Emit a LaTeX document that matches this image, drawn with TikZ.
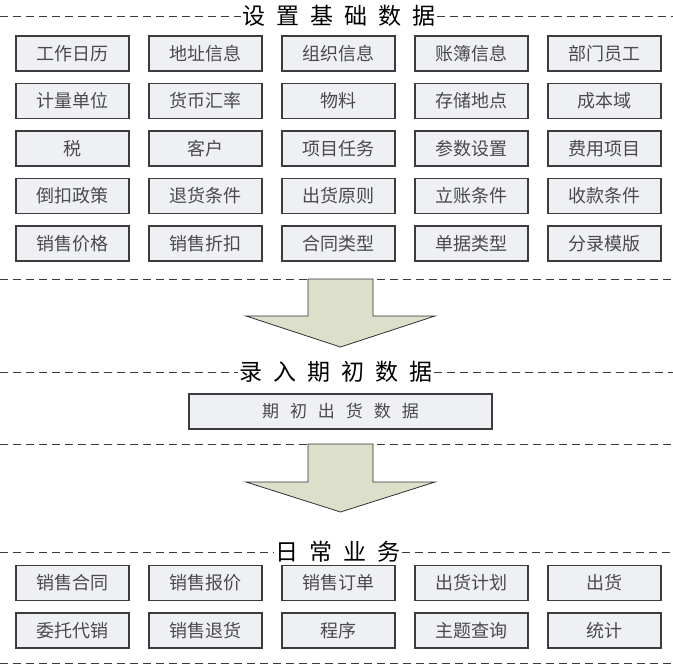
\documentclass[tikz,border=0pt]{standalone}
\usepackage{fontspec}
\setmainfont{Noto Sans CJK SC}
\definecolor{boxfill}{HTML}{EEF0F4}
\definecolor{boxline}{HTML}{3C3C3C}
\definecolor{boxtext}{HTML}{4A4A4A}
\definecolor{arrowfill}{HTML}{DCDFCA}
\definecolor{arrowline}{HTML}{303030}
\definecolor{divline}{HTML}{3A3A3A}
\newcommand{\gapchar}{\hspace{11pt}}
\begin{document}
\begin{tikzpicture}[x=1pt,y=-1pt,
  cell/.style={draw=boxline, fill=boxfill, line width=1.1pt, minimum width=113pt,
    minimum height=35pt, inner sep=0pt, text=boxtext, font=\fontsize{18}{20}\selectfont},
  heading/.style={inner sep=1pt, text=black, font=\fontsize{23}{25}\selectfont},
  divider/.style={draw=divline, line width=0.9pt, dash pattern=on 8pt off 5pt},
  flow/.style={draw=arrowline, fill=arrowfill, line width=0.8pt, line join=miter}]
\useasboundingbox (0,0) rectangle (673,664);

% ---- section 1: base data ----
\node[heading] (t1) at (339,16) {设\gapchar 置\gapchar 基\gapchar 础\gapchar 数\gapchar 据};
\draw[divider] (0,16) -- (t1.west);
\draw[divider] (t1.east) -- (673,16);

\foreach \txt [count=\i from 0] in {工作日历,地址信息,组织信息,账簿信息,部门员工}
  \node[cell] (a\i) at (72.5+133*\i,53.5) {\txt};
\foreach \txt [count=\i from 0] in {计量单位,货币汇率,物料,存储地点,成本域}
  \node[cell] (b\i) at (72.5+133*\i,101) {\txt};
\foreach \txt [count=\i from 0] in {税,客户,项目任务,参数设置,费用项目}
  \node[cell] (c\i) at (72.5+133*\i,148.5) {\txt};
\foreach \txt [count=\i from 0] in {倒扣政策,退货条件,出货原则,立账条件,收款条件}
  \node[cell] (d\i) at (72.5+133*\i,196) {\txt};
\foreach \txt [count=\i from 0] in {销售价格,销售折扣,合同类型,单据类型,分录模版}
  \node[cell] (e\i) at (72.5+133*\i,243.5) {\txt};

\draw[divider] (0,279) -- (673,279);
\draw[flow] (308,279) -- (373,279) -- (373,316) -- (435,316) -- (340.5,347)
  -- (246,316) -- (308,316) -- cycle;

% ---- section 2: opening balances ----
\node[heading] (t2) at (336,372) {录\gapchar 入\gapchar 期\gapchar 初\gapchar 数\gapchar 据};
\draw[divider] (0,372) -- (t2.west);
\draw[divider] (t2.east) -- (673,372);

\node[cell, minimum width=303pt, font=\fontsize{17}{19}\selectfont] (init) at (340.5,411.5)
  {期\gapchar 初\gapchar 出\gapchar 货\gapchar 数\gapchar 据};

\draw[divider] (0,444) -- (673,444);
\draw[flow] (308,444) -- (373,444) -- (373,482) -- (435,482) -- (340.5,512)
  -- (246,482) -- (308,482) -- cycle;

% ---- section 3: daily operations ----
\node[heading] (t3) at (338,552) {日\gapchar 常\gapchar 业\gapchar 务};
\draw[divider] (0,552) -- (t3.west);
\draw[divider] (t3.east) -- (673,552);

\foreach \txt [count=\i from 0] in {销售合同,销售报价,销售订单,出货计划,出货}
  \node[cell] (f\i) at (72.5+133*\i,583) {\txt};
\foreach \txt [count=\i from 0] in {委托代销,销售退货,程序,主题查询,统计}
  \node[cell] (g\i) at (72.5+133*\i,630.5) {\txt};

\draw[divider] (0,663) -- (673,663);
\end{tikzpicture}
\end{document}
